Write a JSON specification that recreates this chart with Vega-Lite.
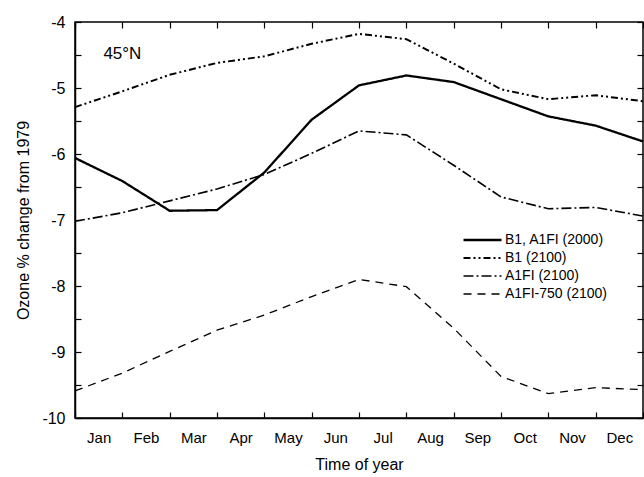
{
  "$schema": "https://vega.github.io/schema/vega-lite/v6.json",
  "width": 568,
  "height": 396,
  "autosize": {"type": "none"},
  "padding": {"left": 75, "top": 22, "right": 1, "bottom": 59},
  "config": {
    "font": "Liberation Sans",
    "view": {"stroke": "black", "strokeWidth": 1.5},
    "axis": {"grid": false, "labelColor": "black", "titleColor": "black", "tickColor": "black", "domainColor": "black", "titleFontWeight": "normal"}
  },
  "data": {
    "values": [
      {"t": 0, "series": "B1, A1FI (2000)", "v": -6.06},
      {"t": 1, "series": "B1, A1FI (2000)", "v": -6.41},
      {"t": 2, "series": "B1, A1FI (2000)", "v": -6.86},
      {"t": 3, "series": "B1, A1FI (2000)", "v": -6.85},
      {"t": 4, "series": "B1, A1FI (2000)", "v": -6.28},
      {"t": 5, "series": "B1, A1FI (2000)", "v": -5.48},
      {"t": 6, "series": "B1, A1FI (2000)", "v": -4.96},
      {"t": 7, "series": "B1, A1FI (2000)", "v": -4.81},
      {"t": 8, "series": "B1, A1FI (2000)", "v": -4.91},
      {"t": 9, "series": "B1, A1FI (2000)", "v": -5.17},
      {"t": 10, "series": "B1, A1FI (2000)", "v": -5.43},
      {"t": 11, "series": "B1, A1FI (2000)", "v": -5.57},
      {"t": 12, "series": "B1, A1FI (2000)", "v": -5.81},
      {"t": 0, "series": "B1 (2100)", "v": -5.29},
      {"t": 1, "series": "B1 (2100)", "v": -5.05},
      {"t": 2, "series": "B1 (2100)", "v": -4.80},
      {"t": 3, "series": "B1 (2100)", "v": -4.62},
      {"t": 4, "series": "B1 (2100)", "v": -4.52},
      {"t": 5, "series": "B1 (2100)", "v": -4.33},
      {"t": 6, "series": "B1 (2100)", "v": -4.18},
      {"t": 7, "series": "B1 (2100)", "v": -4.26},
      {"t": 8, "series": "B1 (2100)", "v": -4.63},
      {"t": 9, "series": "B1 (2100)", "v": -5.02},
      {"t": 10, "series": "B1 (2100)", "v": -5.17},
      {"t": 11, "series": "B1 (2100)", "v": -5.11},
      {"t": 12, "series": "B1 (2100)", "v": -5.20},
      {"t": 0, "series": "A1FI (2100)", "v": -7.02},
      {"t": 1, "series": "A1FI (2100)", "v": -6.89},
      {"t": 2, "series": "A1FI (2100)", "v": -6.71},
      {"t": 3, "series": "A1FI (2100)", "v": -6.53},
      {"t": 4, "series": "A1FI (2100)", "v": -6.31},
      {"t": 5, "series": "A1FI (2100)", "v": -5.99},
      {"t": 6, "series": "A1FI (2100)", "v": -5.65},
      {"t": 7, "series": "A1FI (2100)", "v": -5.71},
      {"t": 8, "series": "A1FI (2100)", "v": -6.17},
      {"t": 9, "series": "A1FI (2100)", "v": -6.65},
      {"t": 10, "series": "A1FI (2100)", "v": -6.83},
      {"t": 11, "series": "A1FI (2100)", "v": -6.81},
      {"t": 12, "series": "A1FI (2100)", "v": -6.94},
      {"t": 0, "series": "A1FI-750 (2100)", "v": -9.59},
      {"t": 1, "series": "A1FI-750 (2100)", "v": -9.32},
      {"t": 2, "series": "A1FI-750 (2100)", "v": -8.99},
      {"t": 3, "series": "A1FI-750 (2100)", "v": -8.67},
      {"t": 4, "series": "A1FI-750 (2100)", "v": -8.44},
      {"t": 5, "series": "A1FI-750 (2100)", "v": -8.16},
      {"t": 6, "series": "A1FI-750 (2100)", "v": -7.90},
      {"t": 7, "series": "A1FI-750 (2100)", "v": -8.01},
      {"t": 8, "series": "A1FI-750 (2100)", "v": -8.64},
      {"t": 9, "series": "A1FI-750 (2100)", "v": -9.37},
      {"t": 10, "series": "A1FI-750 (2100)", "v": -9.63},
      {"t": 11, "series": "A1FI-750 (2100)", "v": -9.54},
      {"t": 12, "series": "A1FI-750 (2100)", "v": -9.57}
    ]
  },
  "layer": [
    {
      "mark": {"type": "line", "color": "black"},
      "encoding": {
        "x": {
          "field": "t", "type": "quantitative",
          "scale": {"domain": [0, 12], "nice": false, "zero": false},
          "axis": {
            "orient": "bottom",
            "values": [0, 0.5, 1, 1.5, 2, 2.5, 3, 3.5, 4, 4.5, 5, 5.5, 6, 6.5, 7, 7.5, 8, 8.5, 9, 9.5, 10, 10.5, 11, 11.5, 12],
            "labelExpr": "datum.value % 1 === 0.5 ? ['Jan','Feb','Mar','Apr','May','Jun','Jul','Aug','Sep','Oct','Nov','Dec'][floor(datum.value)] : ''",
            "tickOpacity": {"expr": "datum.value % 1 === 0 ? 1 : 0"},
            "tickSize": -6, "tickWidth": 1.2,
            "labelPadding": 18, "labelFontSize": 15, "labelFlush": false, "labelOverlap": false,
            "domainWidth": 1.5,
            "title": "Time of year", "titleFontSize": 16, "titlePadding": 11
          }
        },
        "y": {
          "field": "v", "type": "quantitative",
          "scale": {"domain": [-10, -4], "nice": false, "zero": false},
          "axis": {
            "orient": "left",
            "values": [-10, -9.5, -9, -8.5, -8, -7.5, -7, -6.5, -6, -5.5, -5, -4.5, -4],
            "labelExpr": "datum.value % 1 === 0 ? '' + datum.value : ''",
            "tickSize": -6, "tickWidth": 1.2,
            "labelPadding": 16, "labelFontSize": 16, "labelFlush": false, "labelOverlap": false,
            "domainWidth": 1.5,
            "title": "Ozone % change from 1979", "titleFontSize": 16, "titlePadding": 10
          }
        },
        "strokeDash": {
          "field": "series", "type": "nominal",
          "scale": {
            "domain": ["B1, A1FI (2000)", "B1 (2100)", "A1FI (2100)", "A1FI-750 (2100)"],
            "range": [[1, 0], [7, 3, 2, 3, 2, 3], [10, 3, 2, 3], [8, 6]]
          },
          "legend": {
            "title": null, "orient": "none", "legendX": 387, "legendY": 210,
            "symbolType": "stroke", "symbolSize": 1444, "symbolStrokeColor": "black",
            "labelFontSize": 14, "labelColor": "black", "labelOffset": 2,
            "clipHeight": 16, "rowPadding": 2, "padding": 0
          }
        },
        "strokeWidth": {
          "field": "series", "type": "nominal",
          "scale": {
            "domain": ["B1, A1FI (2000)", "B1 (2100)", "A1FI (2100)", "A1FI-750 (2100)"],
            "range": [2.3, 1.3, 1.3, 1.3]
          }
        }
      }
    },
    {
      "mark": {"type": "point", "opacity": 0},
      "encoding": {
        "x": {
          "field": "t", "type": "quantitative",
          "scale": {"domain": [0, 12], "nice": false, "zero": false},
          "axis": {"orient": "top", "values": [0, 1, 2, 3, 4, 5, 6, 7, 8, 9, 10, 11, 12], "labels": false, "tickSize": -6, "tickWidth": 1.2, "domain": false, "title": null}
        },
        "y": {
          "field": "v", "type": "quantitative",
          "scale": {"domain": [-10, -4], "nice": false, "zero": false},
          "axis": {"orient": "right", "values": [-10, -9.5, -9, -8.5, -8, -7.5, -7, -6.5, -6, -5.5, -5, -4.5, -4], "labels": false, "tickSize": -6, "tickWidth": 1.2, "domain": false, "title": null}
        }
      }
    },
    {
      "data": {"values": [{"label": "45°N"}]},
      "mark": {"type": "text", "align": "left", "baseline": "middle", "fontSize": 17, "color": "black", "font": "Liberation Sans"},
      "encoding": {
        "x": {"datum": 0.6, "type": "quantitative", "scale": {"domain": [0, 12], "nice": false, "zero": false}, "axis": null},
        "y": {"datum": -4.48, "type": "quantitative", "scale": {"domain": [-10, -4], "nice": false, "zero": false}, "axis": null},
        "text": {"field": "label"}
      }
    }
  ],
  "resolve": {"axis": {"x": "independent", "y": "independent"}}
}
